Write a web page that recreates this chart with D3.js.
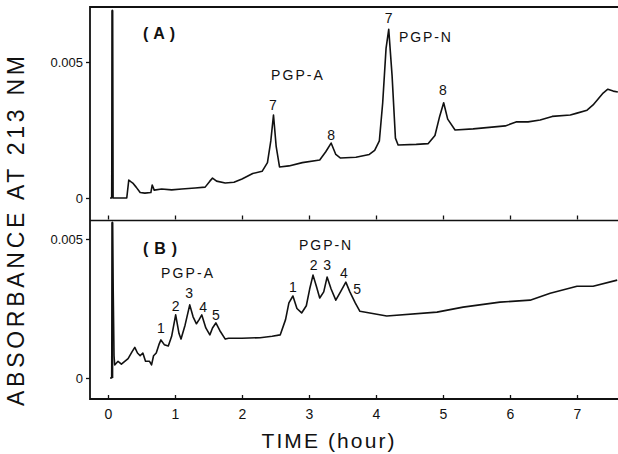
<!DOCTYPE html>
<html>
<head>
<meta charset="utf-8">
<script src="https://cdn.jsdelivr.net/npm/d3@7"></script>
<style>
  body { margin: 0; background: #fff; }
  text { font-family: "Liberation Sans", "DejaVu Sans", sans-serif; fill: #111; }
</style>
</head>
<body>
<div id="chart"></div>
<script>
// panel (A) trace
var timeA = [0.03, 0.055, 0.065, 0.075, 0.28, 0.31, 0.34, 0.37, 0.42, 0.48, 0.55, 0.64, 0.66, 0.69, 0.8, 0.95, 1.1, 1.3, 1.45, 1.52, 1.56, 1.62, 1.75, 1.88, 2.0, 2.16, 2.3, 2.38, 2.43, 2.47, 2.51, 2.56, 2.7, 2.9, 3.16, 3.25, 3.33, 3.4, 3.47, 3.7, 3.9, 3.98, 4.05, 4.1, 4.15, 4.19, 4.24, 4.29, 4.33, 4.6, 4.78, 4.88, 4.95, 5.01, 5.07, 5.18, 5.45, 5.93, 6.1, 6.27, 6.45, 6.63, 6.9, 7.0, 7.15, 7.24, 7.39, 7.46, 7.54, 7.61];
var absA = [0, 0, 0.0069, 0, 0, 0.00066, 0.0006, 0.00055, 0.0004, 0.0002, 0.00018, 0.0002, 0.00048, 0.00029, 0.00033, 0.0003, 0.00033, 0.00037, 0.0004, 0.00062, 0.00073, 0.00062, 0.00055, 0.00058, 0.0007, 0.0009, 0.00098, 0.0013, 0.0021, 0.00305, 0.0019, 0.00114, 0.00118, 0.0013, 0.0014, 0.0017, 0.00202, 0.0016, 0.00147, 0.0015, 0.0016, 0.00175, 0.0021, 0.0035, 0.0055, 0.0062, 0.0045, 0.0022, 0.00195, 0.00197, 0.002, 0.0023, 0.003, 0.0035, 0.0029, 0.0025, 0.00254, 0.00265, 0.0028, 0.0028, 0.00287, 0.003, 0.00305, 0.00312, 0.00323, 0.00342, 0.00386, 0.004, 0.00393, 0.0039];

// panel (B) trace
var timeB = [0.03, 0.055, 0.065, 0.09, 0.1, 0.15, 0.2, 0.25, 0.3, 0.36, 0.4, 0.44, 0.48, 0.52, 0.56, 0.62, 0.65, 0.68, 0.72, 0.76, 0.79, 0.84, 0.9, 0.95, 1.01, 1.06, 1.09, 1.15, 1.22, 1.27, 1.32, 1.36, 1.4, 1.46, 1.52, 1.56, 1.61, 1.67, 1.75, 1.8, 2.0, 2.27, 2.45, 2.57, 2.65, 2.7, 2.76, 2.82, 2.89, 2.96, 3.01, 3.06, 3.11, 3.16, 3.22, 3.27, 3.33, 3.4, 3.47, 3.55, 3.61, 3.69, 3.76, 4.16, 4.91, 5.3, 5.85, 6.3, 6.6, 7.0, 7.24, 7.6];
var absB = [0, 0, 0.0056, 0.0008, 0.00047, 0.0006, 0.0005, 0.0006, 0.0007, 0.00095, 0.0011, 0.0009, 0.0008, 0.0009, 0.0006, 0.0006, 0.00047, 0.0008, 0.0009, 0.0012, 0.00137, 0.0012, 0.00115, 0.0015, 0.00227, 0.0016, 0.0014, 0.0019, 0.00263, 0.0022, 0.00195, 0.0021, 0.00227, 0.0018, 0.00155, 0.0018, 0.00198, 0.0017, 0.0014, 0.00143, 0.00143, 0.00145, 0.0015, 0.00155, 0.0021, 0.0027, 0.00295, 0.0025, 0.00234, 0.0026, 0.0032, 0.0037, 0.0033, 0.00288, 0.0031, 0.00363, 0.0032, 0.0028, 0.0031, 0.00345, 0.0031, 0.0027, 0.0024, 0.00223, 0.00237, 0.00255, 0.00273, 0.0028, 0.00305, 0.0033, 0.0033, 0.00352];

// axis ticks
var xTicks = [0, 1, 2, 3, 4, 5, 6, 7];
var yTicks = [0, 0.005];
var yTickLabels = ["0", "0.005"];

// peak labels: text, time, absorbance
var labelTextA = ["PGP-A", "7", "8", "7", "PGP-N", "8"];
var labelTimeA = [2.82, 2.46, 3.33, 4.19, 4.73, 5.0];
var labelAbsA = [0.00452, 0.00342, 0.00232, 0.00662, 0.00592, 0.00397];

var labelTextB = ["PGP-A", "1", "2", "3", "4", "5", "PGP-N", "1", "2", "3", "4", "5"];
var labelTimeB = [1.18, 0.79, 1.01, 1.21, 1.42, 1.61, 3.24, 2.76, 3.07, 3.27, 3.52, 3.72];
var labelAbsB = [0.00378, 0.0018, 0.00259, 0.00306, 0.00255, 0.00227, 0.00478, 0.00327, 0.00406, 0.00406, 0.00378, 0.0032];

var width = 618, height = 454;
var left = 90, right = 618, topA = 7, mid = 220.5, bottom = 399;

var svg = d3.select("#chart").append("svg")
    .attr("width", width)
    .attr("height", height);

var x = d3.scaleLinear().domain([0, 7]).range([108, 577]);
var yA = d3.scaleLinear().domain([0, 0.005]).range([198, 62]);
var yB = d3.scaleLinear().domain([0, 0.005]).range([378, 239]);

// frame (open on the right like the scan)
svg.append("path")
    .attr("d", "M" + right + "," + topA + "H" + left + "V" + bottom + "H" + right)
    .attr("fill", "none").attr("stroke", "#111").attr("stroke-width", 1.8);
svg.append("line")
    .attr("x1", left).attr("x2", right).attr("y1", mid).attr("y2", mid)
    .attr("stroke", "#111").attr("stroke-width", 1.6);

function yAxis(scale) {
    var g = svg.append("g")
        .attr("transform", "translate(" + left + ",0)")
        .call(d3.axisLeft(scale).tickValues(yTicks).tickSize(4).tickPadding(3)
            .tickFormat(function(d, i) { return yTickLabels[i]; }));
    g.select(".domain").remove();
    g.selectAll("line").attr("stroke", "#111").attr("stroke-width", 1.3);
    g.selectAll("text").style("font-size", "13px").attr("fill", "#111");
}
yAxis(yA);
yAxis(yB);

// x ticks pointing inward, labels only under panel B
var gxB = svg.append("g")
    .attr("transform", "translate(0," + bottom + ")")
    .call(d3.axisBottom(x).tickValues(xTicks).tickSize(-4).tickPadding(10).tickFormat(d3.format("d")));
gxB.select(".domain").remove();
gxB.selectAll("line").attr("stroke", "#111").attr("stroke-width", 1.3);
gxB.selectAll("text").style("font-size", "14px").attr("fill", "#111");

var gxA = svg.append("g")
    .attr("transform", "translate(0," + (mid - 1) + ")")
    .call(d3.axisBottom(x).tickValues(xTicks).tickSize(-4).tickFormat(""));
gxA.select(".domain").remove();
gxA.selectAll("line").attr("stroke", "#111").attr("stroke-width", 1.3);

// traces
function trace(times, vals, scale) {
    var pts = times.map(function(t, i) { return [t, vals[i]]; });
    var line = d3.line()
        .x(function(d) { return x(d[0]); })
        .y(function(d) { return scale(d[1]); });
    svg.append("path")
        .datum(pts)
        .attr("d", line)
        .attr("fill", "none")
        .attr("stroke", "#111")
        .attr("stroke-width", 1.6)
        .attr("stroke-linejoin", "round");
}
trace(timeA, absA, yA);
trace(timeB, absB, yB);

// spike at injection is drawn heavier
svg.append("line")
    .attr("x1", x(0.065)).attr("x2", x(0.065))
    .attr("y1", yA(0)).attr("y2", yA(0.0069))
    .attr("stroke", "#111").attr("stroke-width", 2);
svg.append("line")
    .attr("x1", x(0.065)).attr("x2", x(0.065))
    .attr("y1", yB(0)).attr("y2", yB(0.0056))
    .attr("stroke", "#111").attr("stroke-width", 2);

function labels(texts, times, vals, scale) {
    texts.forEach(function(t, i) {
        var isName = t.length > 1;
        svg.append("text")
            .attr("x", x(times[i]))
            .attr("y", scale(vals[i]))
            .attr("text-anchor", "middle")
            .attr("dominant-baseline", "central")
            .attr("textLength", isName ? 52 : null)
            .attr("lengthAdjust", "spacing")
            .style("font-size", "14px")
            .text(t);
    });
}
labels(labelTextA, labelTimeA, labelAbsA, yA);
labels(labelTextB, labelTimeB, labelAbsB, yB);

// panel tags
svg.append("text").attr("x", 159).attr("y", 33)
    .attr("text-anchor", "middle").attr("dominant-baseline", "central")
    .attr("textLength", 32).attr("lengthAdjust", "spacing")
    .style("font-size", "16px").style("font-weight", "bold").text("(A)");
svg.append("text").attr("x", 160).attr("y", 248)
    .attr("text-anchor", "middle").attr("dominant-baseline", "central")
    .attr("textLength", 34).attr("lengthAdjust", "spacing")
    .style("font-size", "16px").style("font-weight", "bold").text("(B)");

// axis titles
svg.append("text")
    .attr("transform", "translate(24,231) rotate(-90)")
    .attr("text-anchor", "middle")
    .attr("textLength", 350).attr("lengthAdjust", "spacing")
    .style("font-size", "23px")
    .text("ABSORBANCE AT 213 NM");
svg.append("text")
    .attr("x", 328).attr("y", 448)
    .attr("text-anchor", "middle")
    .attr("textLength", 133).attr("lengthAdjust", "spacing")
    .style("font-size", "21px")
    .text("TIME (hour)");
</script>
</body>
</html>
